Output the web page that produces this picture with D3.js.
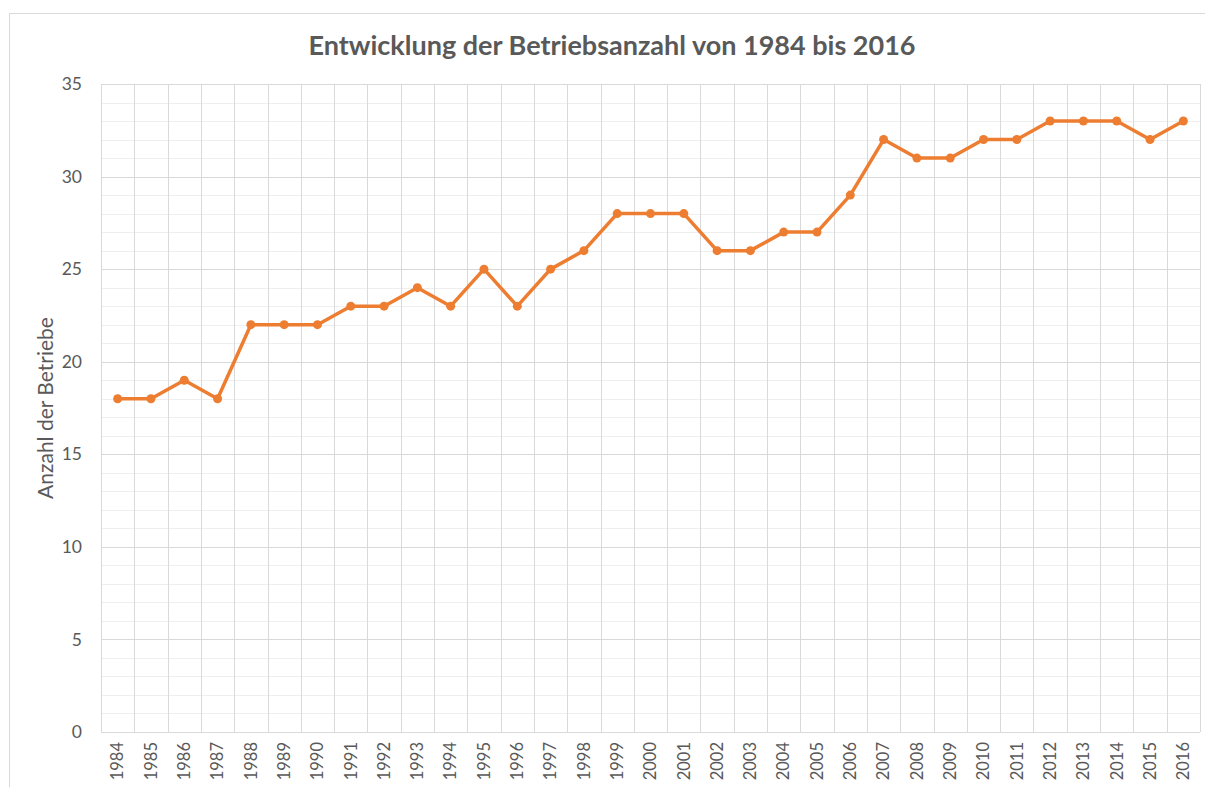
<!DOCTYPE html>
<html>
<head>
<meta charset="utf-8">
<script src="https://cdn.jsdelivr.net/npm/d3@7"></script>
<style>
  body { margin: 0; background: #fff; }
  svg { display: block; font-family: Lato, "Open Sans", sans-serif; }
</style>
</head>
<body>
<div id="chart"></div>
<script>
'use strict';

const years = ['1984', '1985', '1986', '1987', '1988', '1989', '1990', '1991', '1992', '1993',
    '1994', '1995', '1996', '1997', '1998', '1999', '2000', '2001', '2002', '2003', '2004',
    '2005', '2006', '2007', '2008', '2009', '2010', '2011', '2012', '2013', '2014', '2015', '2016'];

const betriebe = [18, 18, 19, 18, 22, 22, 22, 23, 23, 24,
    23, 25, 23, 25, 26, 28, 28, 28, 26, 26, 27,
    27, 29, 32, 31, 31, 32, 32, 33, 33, 33, 32, 33];

const yMajorTicks = [0, 5, 10, 15, 20, 25, 30, 35];
const yMinorTicks = d3.range(0, 36, 1);

const chartTitle = 'Entwicklung der Betriebsanzahl von 1984 bis 2016';
const yTitle = 'Anzahl der Betriebe';

const width = 1205;
const height = 787;
const margin = { top: 84, right: 5, bottom: 55, left: 101 };
const chartWidth = width - margin.left - margin.right;
const chartHeight = height - margin.top - margin.bottom;

const svg = d3.select('#chart')
    .append('svg')
    .attr('width', width)
    .attr('height', height);

// outer chart frame
svg.append('rect')
    .attr('x', 9.5)
    .attr('y', 13.5)
    .attr('width', width + 20)
    .attr('height', height + 20)
    .attr('fill', 'none')
    .attr('stroke', '#d9d9d9');

const chart = svg.append('g')
    .attr('transform', `translate(${margin.left},${margin.top})`);

const xScale = d3.scaleBand()
    .domain(years)
    .range([0, chartWidth]);

const yScale = d3.scaleLinear()
    .domain([0, 35])
    .range([chartHeight, 0]);

// minor horizontal gridlines
chart.append('g')
    .selectAll('line')
    .data(yMinorTicks.filter(function (d) { return d % 5 !== 0; }))
    .join('line')
    .attr('x1', 0)
    .attr('x2', chartWidth)
    .attr('y1', function (d) { return Math.round(yScale(d)) + 0.5; })
    .attr('y2', function (d) { return Math.round(yScale(d)) + 0.5; })
    .attr('stroke', '#eeeeee');

// major horizontal gridlines
chart.append('g')
    .selectAll('line')
    .data(yMajorTicks)
    .join('line')
    .attr('x1', 0)
    .attr('x2', chartWidth)
    .attr('y1', function (d) { return Math.round(yScale(d)) + 0.5; })
    .attr('y2', function (d) { return Math.round(yScale(d)) + 0.5; })
    .attr('stroke', '#d9d9d9');

// vertical gridlines between categories
const boundaries = years.map(function (d) { return xScale(d); }).concat([chartWidth]);
chart.append('g')
    .selectAll('line')
    .data(boundaries)
    .join('line')
    .attr('x1', function (d) { return Math.round(d) + 0.5; })
    .attr('x2', function (d) { return Math.round(d) + 0.5; })
    .attr('y1', 0)
    .attr('y2', chartHeight)
    .attr('stroke', '#d9d9d9');

const yAxis = d3.axisLeft(yScale)
    .tickValues(yMajorTicks)
    .tickSize(0)
    .tickPadding(19);

chart.append('g')
    .call(yAxis)
    .call(function (g) { g.select('.domain').remove(); })
    .selectAll('text')
    .attr('font-size', 17.5)
    .attr('font-family', 'Lato, sans-serif')
    .attr('fill', '#595959');

const xAxis = d3.axisBottom(xScale)
    .tickSize(0);

chart.append('g')
    .attr('transform', `translate(0,${chartHeight})`)
    .call(xAxis)
    .call(function (g) { g.select('.domain').remove(); })
    .selectAll('text')
    .attr('font-size', 16.5)
    .attr('font-family', 'Lato, sans-serif')
    .attr('fill', '#595959')
    .attr('text-anchor', 'end')
    .attr('dy', '0.35em')
    .attr('transform', 'translate(0,10) rotate(-90)')
    .attr('x', 0)
    .attr('y', 0);

const line = d3.line()
    .x(function (d, i) { return xScale(years[i]) + xScale.bandwidth() / 2; })
    .y(function (d) { return yScale(d); });

chart.append('path')
    .datum(betriebe)
    .attr('d', line)
    .attr('fill', 'none')
    .attr('stroke', '#ed7d31')
    .attr('stroke-width', 3.5)
    .attr('stroke-linejoin', 'round');

chart.selectAll('circle.point')
    .data(betriebe)
    .join('circle')
    .attr('class', 'point')
    .attr('cx', function (d, i) { return xScale(years[i]) + xScale.bandwidth() / 2; })
    .attr('cy', function (d) { return yScale(d); })
    .attr('r', 4.5)
    .attr('fill', '#ed7d31');

svg.append('text')
    .attr('x', 612)
    .attr('y', 55)
    .attr('text-anchor', 'middle')
    .attr('font-size', 27)
    .attr('font-weight', 700)
    .attr('fill', '#595959')
    .text(chartTitle);

svg.append('text')
    .attr('transform', 'rotate(-90)')
    .attr('x', -408)
    .attr('y', 53)
    .attr('text-anchor', 'middle')
    .attr('font-size', 21)
    .attr('fill', '#595959')
    .text(yTitle);
</script>
</body>
</html>
